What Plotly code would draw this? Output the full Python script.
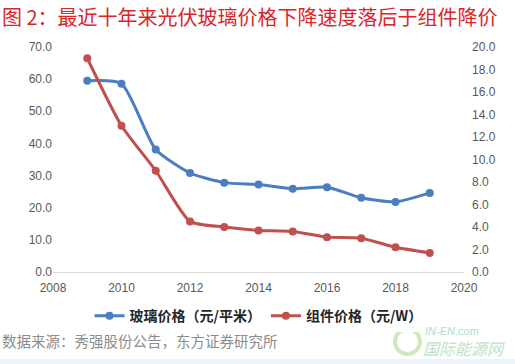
import plotly.graph_objects as go

years = [2009, 2010, 2011, 2012, 2013, 2014, 2015, 2016, 2017, 2018, 2019]
glass_price = [59.5, 58.6, 38.1, 30.8, 27.8, 27.2, 25.9, 26.4, 23.1, 21.8, 24.6]
module_price = [19.0, 13.0, 9.0, 4.5, 4.0, 3.7, 3.6, 3.1, 3.0, 2.2, 1.7]

left_ticks = [0, 10, 20, 30, 40, 50, 60, 70]
right_ticks = [0, 2, 4, 6, 8, 10, 12, 14, 16, 18, 20]
x_ticks = [2008, 2010, 2012, 2014, 2016, 2018, 2020]

title_text = "图 2：最近十年来光伏玻璃价格下降速度落后于组件降价"
source_text = "数据来源：秀强股份公告，东方证券研究所"
name_glass = "玻璃价格（元/平米）"
name_module = "组件价格（元/W）"

BLUE = "#4A7EC2"
RED = "#C0504D"
FONT = "Noto Sans CJK SC"

fig = go.Figure()
fig.add_trace(go.Scatter(
    x=years, y=glass_price, name="<b>" + name_glass + "</b>",
    mode="lines+markers", line=dict(color=BLUE, width=3, shape="spline", smoothing=0.6),
    marker=dict(size=8, color=BLUE), yaxis="y"))
fig.add_trace(go.Scatter(
    x=years, y=module_price, name="<b>" + name_module + "</b>",
    mode="lines+markers", line=dict(color=RED, width=3, shape="spline", smoothing=0.6),
    marker=dict(size=8, color=RED), yaxis="y2"))

tickfont = dict(family="Liberation Sans, Arial", size=12, color="#595959")

W = 411.0
H = 225.0

fig.update_layout(
    width=515, height=364,
    paper_bgcolor="white", plot_bgcolor="white",
    margin=dict(l=53, r=51, t=47, b=92),
    font=dict(family=FONT),
    showlegend=True,
    legend=dict(orientation="h", x=0.5, xanchor="center", y=-0.125, yanchor="top",
                font=dict(family=FONT, size=14, color="#262626"),
                tracegroupgap=0),
    xaxis=dict(range=[2008, 2020], tickvals=x_ticks, showgrid=False, zeroline=False,
               showline=True, linecolor="#D9D9D9", linewidth=1, ticks="",
               tickfont=tickfont, ticklabelstandoff=5),
    yaxis=dict(range=[0, 70], tickvals=left_ticks, tickformat=".1f", showgrid=False,
               zeroline=False, showline=False, ticks="", tickfont=tickfont),
    yaxis2=dict(range=[0, 20], tickvals=right_ticks, tickformat=".1f", showgrid=False,
                zeroline=False, showline=False, ticks="", overlaying="y", side="right",
                tickfont=tickfont, ticklabelstandoff=7),
    annotations=[
        dict(text=title_text, xref="paper", yref="paper", x=-53 / W, y=1 + (47 - 16) / H,
             xanchor="left", yanchor="middle", showarrow=False,
             font=dict(family=FONT, size=20, color="#D9262B")),
        dict(text=source_text, xref="paper", yref="paper", x=-53 / W, y=-(340 - 272) / H,
             xanchor="left", yanchor="middle", showarrow=False,
             font=dict(family=FONT, size=14.5, color="#8C8C8C")),
        dict(text="<i>IN-EN</i>.com", xref="paper", yref="paper", x=(423 - 53) / W,
             y=-(331 - 272) / H, xanchor="left", yanchor="middle", showarrow=False,
             font=dict(family="Liberation Sans", size=11, color="#A9DDD2")),
        dict(text="<i>国际能源网</i>", xref="paper", yref="paper", x=(421 - 53) / W,
             y=-(348 - 272) / H, xanchor="left", yanchor="middle", showarrow=False,
             font=dict(family=FONT, size=16, color="#BFE3C4")),
    ],
    shapes=[
        dict(type="circle", xref="paper", yref="paper",
             x0=(395 - 53) / W, x1=(420 - 53) / W,
             y0=-(354 - 272) / H, y1=-(329 - 272) / H,
             line=dict(color="#CFE9B9", width=4)),
        dict(type="rect", xref="paper", yref="paper", x0=-53 / W, x1=(515 - 53) / W,
             y0=-(364 - 272) / H, y1=-(359 - 272) / H,
             fillcolor="#EAF4FB", line=dict(width=0), layer="below"),
    ],
)

fig.write_html("out.html", config={"displayModeBar": False},
               post_script="document.body.style.margin='0';")
